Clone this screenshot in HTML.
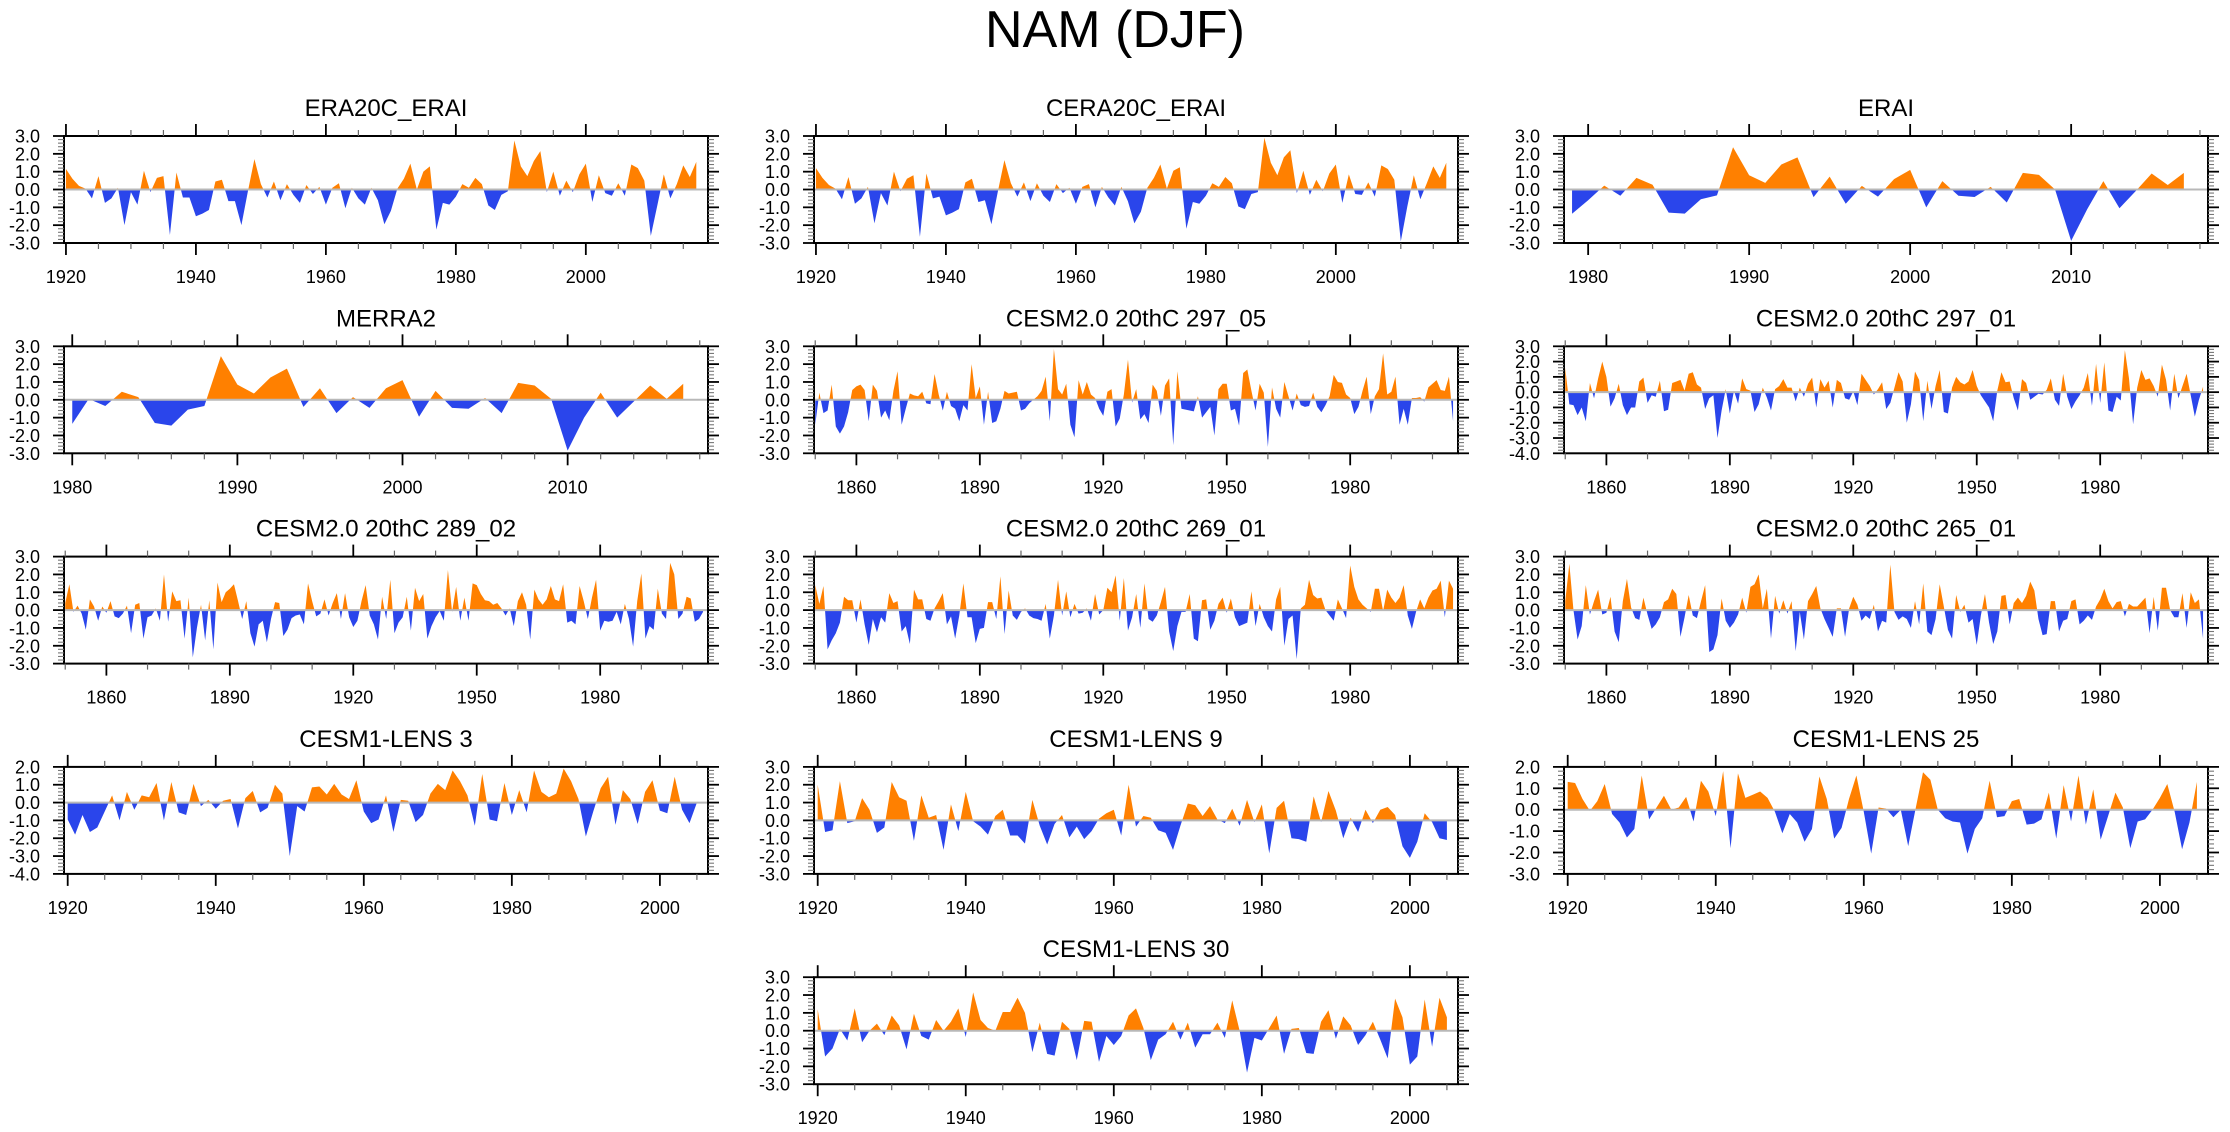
<!DOCTYPE html>
<html><head><meta charset="utf-8"><title>NAM (DJF)</title>
<style>
html,body{margin:0;padding:0;background:#fff;}
svg{display:block;}
text{font-family:"Liberation Sans",Arial,sans-serif;fill:#000;}
</style></head>
<body>
<svg id="fig" xmlns="http://www.w3.org/2000/svg" width="2230" height="1132" viewBox="0 0 2230 1132">
<rect x="0" y="0" width="2230" height="1132" fill="#fff"/>
<text x="1115" y="47" font-size="52" text-anchor="middle">NAM (DJF)</text>
</svg>
<script>
// ---- data (one value per winter) ----
const era20c = [1.15,0.6,0.2,0.05,-0.5,0.75,-0.75,-0.5,0.1,-2.0,
-0.15,-0.85,1.05,-0.15,0.65,0.75,-2.55,0.95,-0.45,-0.45,
-1.5,-1.35,-1.15,0.45,0.55,-0.65,-0.65,-2.0,-0.1,1.7,
0.3,-0.45,0.45,-0.6,0.3,-0.3,-0.75,0.25,-0.25,0.15,
-0.85,0.1,0.35,-1.05,0.1,-0.5,-0.85,0.1,-0.6,-1.95,
-1.2,0.05,0.6,1.45,0.0,1.0,1.3,-2.25,-0.75,-0.85,
-0.4,0.3,0.1,0.65,0.3,-0.9,-1.15,-0.3,-0.1,2.75,
1.3,0.75,1.6,2.15,-0.15,1.0,-0.35,0.5,-0.15,0.85,
1.45,-0.7,0.8,-0.2,-0.35,0.35,-0.35,1.4,1.2,0.5,
-2.6,-0.9,0.85,-0.5,0.3,1.35,0.7,1.55];
const cera20c = [1.2,0.65,0.25,0.05,-0.55,0.7,-0.8,-0.5,0.15,-1.9,
-0.2,-0.9,1.0,-0.1,0.6,0.8,-2.65,0.9,-0.5,-0.4,
-1.45,-1.3,-1.1,0.4,0.6,-0.7,-0.6,-1.95,-0.1,1.65,
0.35,-0.4,0.4,-0.65,0.35,-0.35,-0.7,0.3,-0.2,0.1,
-0.8,0.15,0.3,-1.0,0.15,-0.45,-0.9,0.15,-0.65,-1.9,
-1.25,0.1,0.65,1.4,0.05,1.05,1.25,-2.2,-0.7,-0.8,
-0.35,0.35,0.15,0.7,0.35,-0.95,-1.1,-0.25,-0.15,2.9,
1.5,0.8,1.8,2.2,-0.2,1.05,-0.3,0.55,-0.1,0.9,
1.4,-0.75,0.85,-0.25,-0.3,0.4,-0.4,1.35,1.15,0.55,
-2.9,-0.95,0.8,-0.55,0.35,1.3,0.65,1.5];
const erai = [-1.36,-0.6,0.22,-0.35,0.65,0.27,-1.3,-1.35,-0.55,-0.33,
2.37,0.8,0.37,1.4,1.8,-0.43,0.72,-0.8,0.2,-0.4,
0.58,1.1,-1.0,0.47,-0.35,-0.42,0.15,-0.73,0.93,0.82,
0.0,-2.88,-1.1,0.47,-1.05,-0.1,0.9,0.25,0.93];
const merra2 = [-1.35,0.05,-0.35,0.45,0.15,-1.3,-1.45,-0.55,-0.35,2.45,
0.85,0.35,1.25,1.75,-0.4,0.65,-0.75,0.15,-0.45,0.65,
1.1,-0.95,0.5,-0.45,-0.5,0.1,-0.75,0.95,0.8,0.05,
-2.85,-1.0,0.4,-1.0,-0.1,0.8,0.05,0.9];
const c297_05 = [-1.4,0.4,-0.75,-0.6,0.85,-1.5,-1.9,-1.5,-0.7,0.55,
0.75,0.85,0.55,-1.2,0.85,0.5,-1.0,-0.6,-1.15,0.5,
1.6,-1.4,-0.5,0.35,0.25,0.2,0.45,-0.2,-0.25,1.45,
0.3,-0.6,0.45,-0.35,-0.5,-1.2,-0.3,-0.6,2.0,0.1,
0.75,-1.4,0.45,-1.3,-1.2,-0.5,0.5,0.35,0.4,0.45,
-0.6,-0.5,-0.2,0.0,0.2,0.5,1.3,-1.2,2.85,0.6,
0.3,0.9,-1.4,-2.1,1.1,0.3,1.0,0.3,0.1,-0.5,
-0.9,0.45,0.6,-1.5,-1.05,0.3,2.25,-0.15,0.6,-1.1,
-0.8,-1.3,0.85,0.5,-0.9,0.8,1.2,-2.55,1.6,-0.5,
-0.55,-0.6,-0.65,0.2,-1.0,-0.7,-0.4,-2.0,0.6,0.9,
0.9,-0.6,-0.5,-1.45,1.5,1.7,0.5,-0.6,0.9,0.4,
-2.65,0.7,-0.5,-1.0,1.0,0.2,-0.6,0.35,-0.3,-0.4,
-0.35,0.4,-0.4,-0.7,-0.3,0.2,1.4,1.0,0.95,0.3,
0.1,-0.8,-0.4,0.5,1.3,-0.8,0.2,0.6,2.6,0.3,
0.45,1.3,-1.4,-0.5,-1.4,0.1,0.1,0.15,-0.1,0.7,
0.9,1.1,0.55,0.5,1.3,-1.2];
const c297_01 = [1.6,-0.8,-0.85,-1.5,-1.0,-1.9,0.6,-0.4,0.9,2.0,
1.0,-0.95,-0.4,0.55,-0.85,-1.5,-1.0,-1.0,0.7,0.95,
-0.7,-0.2,-0.3,0.75,-1.25,-1.15,0.6,0.7,0.8,0.1,
1.2,1.3,0.5,0.3,-1.1,-0.4,-0.2,-3.0,-1.2,0.2,
-1.4,0.1,-0.75,0.9,0.2,0.1,-1.3,-0.8,0.3,-0.35,
-1.2,0.2,0.4,0.85,0.3,0.3,-0.6,0.3,-0.3,0.55,
0.95,-1.0,0.85,0.3,0.75,-1.0,0.8,0.6,-0.4,-0.5,
0.05,-0.85,1.2,0.8,0.4,-0.15,0.2,0.65,-1.1,-0.7,
0.3,1.3,0.7,-2.0,-0.8,1.35,0.8,-1.9,0.75,-1.1,
0.4,1.45,-1.3,-1.4,0.3,1.0,0.65,0.5,0.7,1.45,
0.4,-0.2,-0.6,-1.0,-1.9,0.1,1.3,0.65,0.7,-0.4,
-1.2,0.85,0.6,-0.5,-0.3,-0.1,-0.15,0.15,0.9,-0.5,
-0.9,1.2,-0.3,-1.1,-0.6,-0.2,0.3,1.25,-0.9,1.85,
-0.7,1.95,-1.2,-1.3,-0.3,-0.55,2.75,0.9,-2.1,0.3,
1.45,0.8,0.9,0.4,-0.3,1.8,0.8,-1.2,1.2,-0.4,
0.4,1.2,-0.2,-1.6,-0.5,0.35];
const c289_02 = [0.4,1.45,-0.1,0.25,-0.2,-1.1,0.6,0.2,-0.6,0.2,
-0.15,0.5,-0.35,-0.45,-0.2,0.25,-1.3,0.3,0.4,-1.6,
-0.4,-0.3,0.1,-0.6,2.0,-0.65,1.05,0.5,0.55,-1.6,
0.7,-2.65,-1.0,0.3,-1.7,0.55,-2.2,1.55,0.45,1.0,
1.2,1.45,0.5,-0.5,0.5,-1.3,-2.05,-0.8,-0.6,-1.8,
-0.5,0.45,0.4,-1.45,-1.1,-0.45,-0.3,-0.25,-0.8,1.5,
0.5,-0.35,-0.2,0.6,-0.3,0.4,0.95,-0.5,0.95,-0.4,
-0.95,-0.6,0.5,1.4,-0.3,-0.8,-1.65,0.75,-0.5,1.7,
-1.3,-0.7,-0.4,0.75,-1.15,1.25,0.5,0.9,-1.6,-0.9,
-0.4,-0.05,-0.6,2.25,-0.1,1.3,-0.6,0.7,-0.6,1.5,
1.4,0.9,0.55,0.5,0.3,0.4,0.1,-0.3,0.1,-0.9,
0.5,1.0,0.3,-1.65,1.15,0.6,0.3,0.6,1.35,0.6,
0.5,1.45,-0.7,-0.6,-0.8,1.35,0.5,-0.5,0.7,1.7,
-1.15,-0.6,-0.65,-0.6,-0.1,-0.8,0.35,-0.5,-2.05,0.5,
2.05,-1.6,-0.9,-1.1,1.2,-0.2,-0.5,2.65,2.0,-0.5,
-0.2,0.75,0.65,-0.65,-0.5,-0.1];
const c269_01 = [1.4,0.35,1.35,-2.2,-1.7,-1.3,-0.7,0.75,0.55,0.55,
-0.7,0.6,-0.8,-1.95,-0.5,-1.25,-0.4,-0.7,0.95,0.4,
0.5,-1.2,-0.9,-1.9,1.15,0.6,0.6,-0.5,-0.6,0.1,
0.5,0.95,-0.8,-0.35,-1.6,-0.3,1.5,-0.4,-0.4,-1.85,
-1.05,-1.0,0.45,0.45,-0.5,1.9,-1.35,1.1,-0.3,-0.55,
-0.1,0.1,-0.3,-0.45,-0.5,-0.6,0.35,-1.6,-0.3,1.7,
-0.3,1.05,-0.4,0.35,-0.2,-0.15,0.1,-0.6,0.9,-0.25,
0.0,1.25,1.0,1.95,-0.6,1.8,-1.15,-0.4,0.9,-1.0,
1.5,-0.5,-0.65,-0.3,0.45,1.3,-1.2,-2.3,-0.9,-0.1,
-0.1,0.9,-1.6,-1.75,0.55,0.6,-1.1,-0.6,0.35,0.7,
-0.15,0.65,-0.4,-0.9,-0.8,-0.7,1.05,-0.9,0.35,-0.4,
-0.9,-1.2,0.6,1.3,-2.0,-0.5,-0.3,-2.75,0.1,0.3,
1.7,0.85,0.65,0.7,0.0,-0.3,-0.6,0.6,0.1,-0.45,
2.5,1.3,0.6,0.3,0.1,-0.1,1.2,1.2,-0.05,1.15,
0.7,0.4,0.7,1.4,-0.3,-1.05,-0.1,0.6,0.1,0.7,
1.1,1.2,1.65,-0.4,1.65,1.2];
const c265_01 = [0.5,2.6,0.0,-1.65,-0.9,1.4,-0.25,0.5,1.15,-0.25,
-0.15,0.75,-1.2,-1.8,0.5,1.75,0.15,-0.45,-0.55,0.7,
-0.25,-1.05,-0.8,-0.4,0.45,0.6,1.2,0.9,-1.5,-0.4,
0.85,-0.3,-0.45,0.5,1.4,-2.35,-2.2,-1.4,0.65,-0.6,
-1.0,-0.7,-0.25,0.7,-0.15,1.3,1.45,2.0,0.1,1.2,
-1.6,0.8,-0.2,0.55,-0.2,0.5,-2.3,-0.1,-1.65,0.5,
0.9,1.35,0.1,-0.5,-1.0,-1.5,0.1,0.1,-1.5,0.1,
0.75,0.3,-0.6,-0.3,-0.5,0.3,-1.2,-0.6,-0.7,2.55,
-0.1,-0.55,-0.35,-0.5,-1.0,0.5,-0.8,1.5,-1.2,-1.4,
-0.5,1.45,0.2,-1.1,-1.6,0.85,-0.1,0.3,-0.7,-0.5,
-1.95,-0.3,0.9,-0.7,-1.9,-1.2,0.8,0.85,-0.8,0.4,
0.7,0.4,0.8,1.6,1.1,-0.5,-1.4,-1.35,0.5,0.5,
-1.2,-0.6,-0.5,0.5,0.6,-0.8,-0.6,-0.3,-0.55,0.2,
0.6,1.2,0.5,0.1,0.45,0.5,-0.35,0.35,0.2,0.2,
0.45,0.7,-1.3,0.75,-1.15,1.25,1.25,0.0,-0.4,-0.4,
0.95,-1.0,1.0,0.4,0.6,-1.6];
const lens3 = [-0.95,-1.8,-0.7,-1.65,-1.4,-0.5,0.4,-1.0,0.6,-0.4,
0.4,0.3,1.1,-1.0,1.15,-0.55,-0.7,1.05,-0.2,0.15,
-0.35,0.1,0.2,-1.45,0.25,0.65,-0.55,-0.3,1.0,0.5,
-3.0,-0.2,-0.5,0.85,0.9,0.45,1.05,0.45,0.2,1.25,
-0.5,-1.15,-0.95,0.4,-1.65,0.15,0.1,-1.1,-0.7,0.5,
1.05,0.7,1.8,1.2,0.4,-1.3,1.6,-0.95,-1.05,1.1,
-0.7,0.7,-0.55,1.8,0.6,0.3,0.5,1.9,1.2,0.2,
-1.9,-0.5,0.8,1.45,-1.25,0.7,0.2,-1.2,0.6,1.25,
-0.45,-0.6,1.45,-0.4,-1.15,0.0];
const lens9 = [2.0,-0.65,-0.55,2.2,-0.15,-0.05,1.25,0.6,-0.7,-0.4,
2.15,1.3,1.1,-1.15,1.4,0.15,0.3,-1.65,0.9,-0.6,
1.6,-0.05,-0.35,-0.8,0.25,0.6,-0.85,-0.85,-1.3,1.15,
-0.3,-1.35,-0.2,0.3,-0.95,-0.35,-1.05,-0.6,0.1,0.4,
0.6,-0.85,2.0,-0.35,0.25,0.15,-0.55,-0.7,-1.65,-0.3,
0.95,0.85,0.25,0.8,0.05,-0.15,0.65,-0.3,1.15,-0.1,
0.9,-1.85,0.7,1.1,-1.0,-1.05,-1.2,1.35,-0.1,1.65,
0.55,-1.0,0.15,-0.65,0.6,-0.15,0.6,0.75,0.3,-1.45,
-2.1,-1.2,0.4,-0.1,-1.0,-1.1];
const lens25 = [1.3,1.25,0.5,-0.05,0.4,1.2,-0.2,-0.6,-1.3,-0.9,
1.6,-0.45,0.1,0.65,0.0,0.1,0.6,-0.55,1.35,0.85,
-0.3,1.8,-1.8,1.7,0.55,0.7,0.85,0.55,-0.1,-1.1,
-0.2,-0.6,-1.5,-0.9,1.55,0.5,-1.35,-0.85,0.5,1.6,
-0.1,-2.05,0.1,0.05,-0.35,0.0,-1.7,0.05,1.75,1.4,
0.0,-0.4,-0.55,-0.6,-2.05,-0.9,-0.4,1.35,-0.35,-0.3,
0.4,0.5,-0.7,-0.65,-0.45,0.8,-1.35,1.15,-0.55,1.6,
-0.7,0.95,-1.4,-0.3,0.8,0.1,-1.8,-0.55,-0.45,0.0,
0.55,1.2,-0.1,-1.85,-0.6,1.3];
const lens30 = [1.2,-1.45,-1.0,0.1,-0.55,1.25,-0.65,0.0,0.4,-0.25,
0.85,0.3,-1.05,0.95,-0.3,-0.5,0.6,0.0,0.5,1.25,
-0.35,2.15,0.6,0.15,0.0,1.05,1.05,1.85,1.0,-1.2,
0.45,-1.3,-1.4,0.5,0.1,-1.65,0.55,0.5,-1.75,-0.3,
-0.8,-0.3,0.85,1.25,0.15,-1.65,-0.5,-0.2,0.5,-0.5,
0.45,-0.95,-0.2,-0.2,0.45,-0.4,1.7,0.0,-2.35,-0.4,
-0.55,0.15,0.85,-1.3,0.1,0.15,-1.25,-1.3,0.5,1.15,
-0.45,0.8,0.3,-0.8,-0.25,0.5,-0.5,-1.55,1.8,0.75,
-1.9,-1.45,1.75,-0.9,1.85,0.75];

// ---- panel titles & starting years ----
const titles = ['ERA20C_ERAI','CERA20C_ERAI','ERAI','MERRA2','CESM2.0 20thC 297_05','CESM2.0 20thC 297_01',
 'CESM2.0 20thC 289_02','CESM2.0 20thC 269_01','CESM2.0 20thC 265_01','CESM1-LENS 3','CESM1-LENS 9','CESM1-LENS 25','CESM1-LENS 30'];
const startYears = [1920,1920,1979,1980,1850,1850,1850,1850,1850,1920,1920,1920,1920];
const series = [era20c,cera20c,erai,merra2,c297_05,c297_01,c289_02,c269_01,c265_01,lens3,lens9,lens25,lens30];
const yMins = [-3,-3,-3,-3,-3,-4,-3,-3,-3,-4,-3,-3,-3];
const yMaxs = [3,3,3,3,3,3,3,3,3,2,3,2,3];

// ---- layout / axis configuration ----
const NS='http://www.w3.org/2000/svg';
const svg=document.getElementById('fig');
const colX=[64,814,1564], PW=644, PH=107;
const rowY=r=>136+210.3*r;
const cells=[[0,0],[1,0],[2,0],[0,1],[1,1],[2,1],[0,2],[1,2],[2,2],[0,3],[1,3],[2,3],[1,4]];
const xAxes=[
 {min:1919.7,max:2018.8,base:1920,major:20,minor:5},
 {min:1919.7,max:2018.8,base:1920,major:20,minor:5},
 {min:1978.5,max:2018.5,base:1980,major:10,minor:2},
 {min:1979.5,max:2018.5,base:1980,major:10,minor:2},
 {min:1849.7,max:2006.2,base:1860,major:30,minor:10},
 {min:1849.7,max:2006.2,base:1860,major:30,minor:10},
 {min:1849.7,max:2006.2,base:1860,major:30,minor:10},
 {min:1849.7,max:2006.2,base:1860,major:30,minor:10},
 {min:1849.7,max:2006.2,base:1860,major:30,minor:10},
 {min:1919.5,max:2006.5,base:1920,major:20,minor:5},
 {min:1919.5,max:2006.5,base:1920,major:20,minor:5},
 {min:1919.5,max:2006.5,base:1920,major:20,minor:5},
 {min:1919.5,max:2006.5,base:1920,major:20,minor:5}];

function mk(tag,attrs,parent){const e=document.createElementNS(NS,tag);for(const k in attrs)e.setAttribute(k,attrs[k]);(parent||svg).appendChild(e);return e;}
function line(g,x1,y1,x2,y2,w,c){return mk('line',{x1:x1,y1:y1,x2:x2,y2:y2,stroke:c||'#000','stroke-width':w||1.5},g);}

series.forEach((data,i)=>{
  const [c,r]=cells[i];
  const L=colX[c], T=rowY(r), R=L+PW, B=T+PH;
  const ax=xAxes[i], y0=yMins[i], y1=yMaxs[i];
  const xs=yr=>L+(yr-ax.min)/(ax.max-ax.min)*PW;
  const ys=v=>B-(v-y0)/(y1-y0)*PH;
  const g=mk('g',{});
  
  
  const t=mk('text',{x:L+PW/2,y:T-20,'font-size':24,'text-anchor':'middle'},g);
  t.textContent=titles[i];
  
  
  // area fill
  const zy=ys(0);
  let pts=[[xs(startYears[i]),zy]];
  data.forEach((v,k)=>pts.push([xs(startYears[i]+k),ys(v)]));
  pts.push([xs(startYears[i]+data.length-1),zy]);
  const ptsStr=pts.map(p=>p[0].toFixed(2)+','+p[1].toFixed(2)).join(' ');
  const idA='ca'+i, idB='cb'+i;
  const defs=mk('defs',{},g);
  const cpA=mk('clipPath',{id:idA},defs); mk('rect',{x:L,y:T,width:PW,height:zy-T},cpA);
  const cpB=mk('clipPath',{id:idB},defs); mk('rect',{x:L,y:zy,width:PW,height:B-zy},cpB);
  const pa=mk('polygon',{points:ptsStr,fill:'#ff8000','clip-path':'url(#'+idA+')'},g);
  
  
  const pb=mk('polygon',{points:ptsStr,fill:'#2a45eb','clip-path':'url(#'+idB+')'},g);
  
  
  const zl=line(g,L,zy,R,zy,2,'#b8b8b8');
  
  
  // frame
  const fr=mk('rect',{x:L,y:T,width:PW,height:PH,fill:'none',stroke:'#000','stroke-width':2},g);
  
  
  // x ticks
  for(let v=Math.ceil(ax.min/ax.minor)*ax.minor; v<=ax.max; v+=ax.minor){
    const x=xs(v); const isMaj=((v-ax.base)%ax.major+ax.major)%ax.major===0;
    const len=isMaj?12:6;
    line(g,x,B,x,B+len,isMaj?1.8:1.2,isMaj?'#000':'#666');
    line(g,x,T,x,T-len,isMaj?1.8:1.2,isMaj?'#000':'#666');
    if(isMaj){
      const lt=mk('text',{x:x,y:B+40,'font-size':18,'text-anchor':'middle'},g);
      lt.textContent=String(v);
      
      
    }
  }
  // y ticks
  for(let k=0;k<=Math.round((y1-y0)*5);k++){
    const v=y0+k*0.2; const y=ys(v); const isMaj=k%5===0;
    const len=isMaj?11:6;
    line(g,L-len,y,L,y,isMaj?1.8:1.1,isMaj?'#000':'#777');
    line(g,R,y,R+len,y,isMaj?1.8:1.1,isMaj?'#000':'#777');
    if(isMaj){
      const lt=mk('text',{x:L-24,y:y+6.5,'font-size':18,'text-anchor':'end'},g);
      lt.textContent=v.toFixed(1);
      
      
    }
  }
});
</script>
</body></html>
